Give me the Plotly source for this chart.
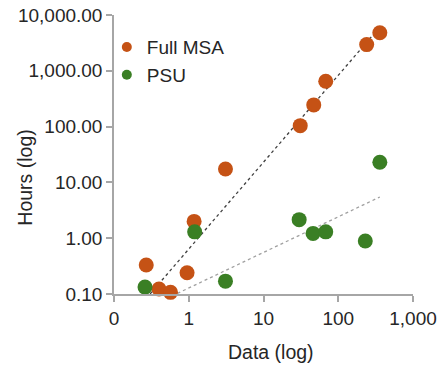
import numpy as np
import plotly.graph_objects as go

# Data (log-log)
msa_x = [360, 240, 68, 47, 31, 3.1, 0.27, 1.18, 0.95, 0.40, 0.57]
msa_y = [4800, 2950, 650, 245, 104, 17.4, 0.33, 2.0, 0.24, 0.123, 0.107]
psu_x = [0.26, 1.2, 3.1, 30, 46, 68, 230, 360]
psu_y = [0.133, 1.3, 0.17, 2.15, 1.22, 1.3, 0.89, 23]

# Power trendlines (y = coef * x^exp)
msa_trend = {"coef": 0.638, "exp": 1.557}
psu_trend = {"coef": 0.128, "exp": 0.638}

x_tickvals = [0.1, 1, 10, 100, 1000]
x_ticktext = ["0", "1", "10", "100", "1,000"]
y_tickvals = [0.1, 1, 10, 100, 1000, 10000]
y_ticktext = ["0.10", "1.00", "10.00", "100.00", "1,000.00", "10,000.00"]

ORANGE = "#C55215"
GREEN = "#3A7F24"
FONT = "Liberation Sans, Arial, sans-serif"
TXT = "#262626"


def trend(xs, p):
    xx = np.logspace(np.log10(min(xs)), np.log10(max(xs)), 60)
    return xx, p["coef"] * xx ** p["exp"]


fig = go.Figure()

tx, ty = trend(msa_x, msa_trend)
fig.add_trace(go.Scatter(x=tx, y=ty, mode="lines", showlegend=False,
                         line=dict(color="#404040", width=1.3, dash="dot"), hoverinfo="skip"))
tx2, ty2 = trend(psu_x, psu_trend)
fig.add_trace(go.Scatter(x=tx2, y=ty2, mode="lines", showlegend=False,
                         line=dict(color="#A0A0A0", width=1.3, dash="dot"), hoverinfo="skip"))

fig.add_trace(go.Scatter(x=msa_x, y=msa_y, mode="markers", showlegend=False, name="Full MSA",
                         marker=dict(color=ORANGE, size=15), cliponaxis=False))
fig.add_trace(go.Scatter(x=psu_x, y=psu_y, mode="markers", showlegend=False, name="PSU",
                         marker=dict(color=GREEN, size=15), cliponaxis=False))

# legend entries
fig.add_trace(go.Scatter(x=[None], y=[None], mode="markers", name="Full MSA",
                         marker=dict(color=ORANGE, size=10)))
fig.add_trace(go.Scatter(x=[None], y=[None], mode="markers", name="PSU",
                         marker=dict(color=GREEN, size=10)))

axis_common = dict(type="log", showgrid=False, zeroline=False, showline=True, automargin=False,
                   linecolor="#A6A6A6", linewidth=1.5, ticks="outside", ticklen=6,
                   tickcolor="#A6A6A6", tickwidth=1.5,
                   tickfont=dict(family=FONT, size=19, color=TXT))

fig.update_layout(
    width=440, height=365,
    margin=dict(l=114, r=27, t=15, b=71, autoexpand=False),
    paper_bgcolor="white", plot_bgcolor="white",
    xaxis=dict(range=[-1, 3], tickvals=x_tickvals, ticktext=x_ticktext, **axis_common),
    yaxis=dict(range=[-1, 4], tickvals=y_tickvals, ticktext=y_ticktext, **axis_common),
    legend=dict(x=-0.024, y=0.953, xanchor="left", yanchor="top", bgcolor="rgba(0,0,0,0)",
                font=dict(family=FONT, size=19, color=TXT), itemwidth=30),
    annotations=[
        dict(text="Data (log)", xref="paper", yref="paper", x=0.525, y=0, yshift=-58,
             xanchor="center", yanchor="middle", showarrow=False,
             font=dict(family=FONT, size=19.5, color=TXT)),
        dict(text="Hours (log)", xref="paper", yref="paper", x=0, xshift=-89, y=0.417,
             xanchor="center", yanchor="middle", showarrow=False, textangle=-90,
             font=dict(family=FONT, size=19.5, color=TXT)),
    ],
)

fig.write_html("out.html", config={"displayModeBar": False},
               post_script="document.body.style.margin='0';")
